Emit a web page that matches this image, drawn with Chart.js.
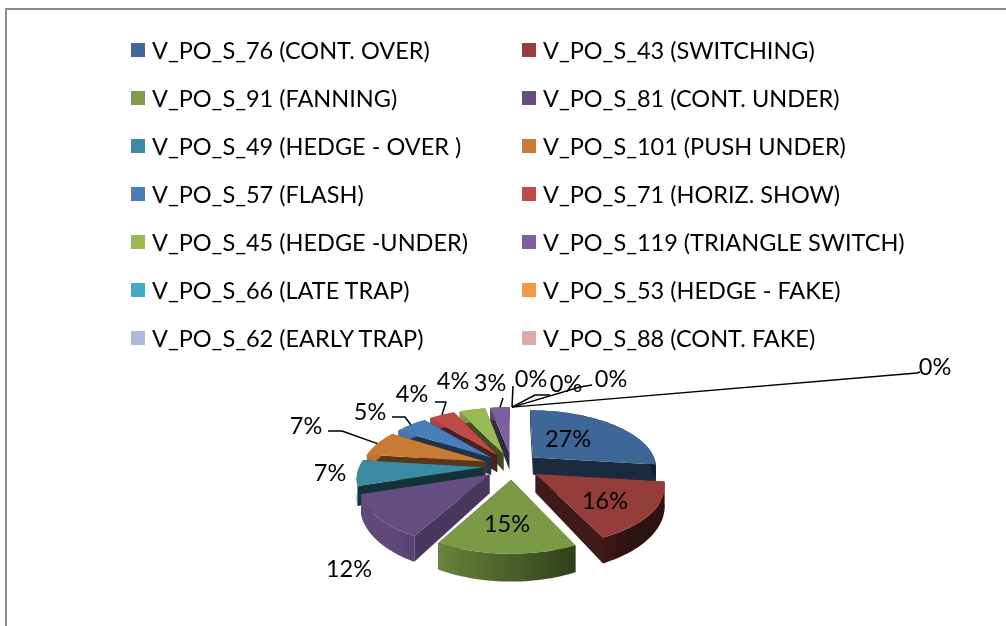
<!DOCTYPE html>
<html><head><meta charset="utf-8">
<script src="https://cdn.jsdelivr.net/npm/chart.js@4"></script>
<style>
html,body{margin:0;padding:0;background:#fff;width:1006px;height:626px;overflow:hidden}
#wrap{position:relative;width:1006px;height:626px}
#frame{position:absolute;left:5px;top:8px;width:1100px;height:800px;border:2px solid #8c8c8c;box-sizing:border-box}
canvas{position:absolute;left:0;top:0}
#legend{position:absolute;left:0;top:0;font:23.5px Lato,sans-serif;color:#000}
.it{position:absolute;white-space:nowrap;line-height:28px;height:28px}
.sw{position:absolute;width:14px;height:14px;top:7px;left:-21px}
</style></head><body>
<div id="wrap"><div id="frame"></div><canvas id="c" width="1006" height="626"></canvas><div id="legend"></div></div>
<script>
const categories=["V_PO_S_76 (CONT. OVER)","V_PO_S_43 (SWITCHING)","V_PO_S_91 (FANNING)","V_PO_S_81 (CONT. UNDER)","V_PO_S_49 (HEDGE - OVER )","V_PO_S_101 (PUSH UNDER)","V_PO_S_57 (FLASH)","V_PO_S_71 (HORIZ. SHOW)","V_PO_S_45 (HEDGE -UNDER)","V_PO_S_119 (TRIANGLE SWITCH)","V_PO_S_66 (LATE TRAP)","V_PO_S_53 (HEDGE - FAKE)","V_PO_S_62 (EARLY TRAP)","V_PO_S_88 (CONT. FAKE)"];
const values=[27,16,15,12,7,7,5,4,4,3,0,0,0,0];
const colors=["#3e6797","#953d3b","#7a9a45","#654e82","#3a8ca3","#c97b35","#4a7ebb","#be4b48","#98b954","#7d60a0","#46aac5","#f79646","#aabbdc","#dca9a8"];
const legendColors=["#41689a","#9a3f3c","#7f9c4a","#664e83","#3b8ba4","#cb7a33","#4a7ebb","#be4b48","#98b954","#7d60a0","#46aac5","#f79646","#aabbdc","#dca9a8"];
const wallShade=[.42,.43,.5,.72,.36,.45,.42,.42,.42,.42,.4,.4,.4,.4];
const labelPos=[[568,439],[605,501],[507,524],[349,569],[330,473],[306,426],[370,412],[412,394],[453,381],[490,383],[531,379],[566,384],[611,379],[935,367]];
const leaderVia=[null,null,null,null,null,[[328,431],[342,431]],[[392,417],[405,417]],[[435,402],[446,402]],null,[[503,398]],[[513,386]],[[550,395],[535,395]],[[592,385],[580,387]],[[920,372],[917,373]]];

const K=.16, ASPECT=.462, DEPTH=18, EXPLODE=.23;
const sum=values.reduce((a,b)=>a+b,0);
const project=(arc,ang,rr,z)=>{
  const r=arc.outerRadius, off=arc.offset/r, mid=(arc.startAngle+arc.endAngle)/2;
  const u=rr*Math.cos(ang)+off*Math.cos(mid), v=rr*Math.sin(ang)+off*Math.sin(mid);
  const s=1/(1-K*v);
  return [arc.x+r*u*s, arc.y+r*ASPECT*v*s+(z?DEPTH*s*s:0)];
};
const shade=(hex,f)=>{const n=parseInt(hex.slice(1),16);return `rgb(${(n>>16)*f|0},${((n>>8)&255)*f|0},${(n&255)*f|0})`;};

const pie3d={id:'pie3d',
  beforeDatasetsDraw(chart){
    const ctx=chart.ctx, els=chart.getDatasetMeta(0).data;
    const arcs=els.map((el,i)=>{const p=el.getProps(['x','y','startAngle','endAngle','outerRadius'],true);
      return {...p,offset:el.options.offset,color:el.options.backgroundColor,i};});
    const order=arcs.filter(a=>values[a.i]>0).sort((a,b)=>Math.sin((a.startAngle+a.endAngle)/2)-Math.sin((b.startAngle+b.endAngle)/2));
    const poly=(pts,col)=>{ctx.beginPath();pts.forEach((p,j)=>j?ctx.lineTo(p[0],p[1]):ctx.moveTo(p[0],p[1]));ctx.closePath();ctx.fillStyle=col;ctx.fill();};
    for(const a of order){
      const n=Math.max(4,Math.ceil((a.endAngle-a.startAngle)*40));
      const rim=[];for(let j=0;j<=n;j++)rim.push(a.startAngle+(a.endAngle-a.startAngle)*j/n);
      const wc=shade(a.color,wallShade[a.i]);
      for(const ang of [a.startAngle,a.endAngle]){
        poly([project(a,ang,0,0),project(a,ang,1,0),project(a,ang,1,1),project(a,ang,0,1)],wc);
      }
      const upper=rim.map(r=>project(a,r,1,0)), lower=rim.map(r=>project(a,r,1,1));
      const xs=upper.map(p=>p[0]), x0=Math.min(...xs), x1=Math.max(...xs);
      const g=ctx.createLinearGradient(x0,0,x1,0);
      rim.map((r,j)=>({t:(xs[j]-x0)/(x1-x0||1),f:Math.min(.95,Math.max(.3,.62-.5*Math.sin(r+Math.PI/2)))}))
        .sort((p,q)=>p.t-q.t).forEach(st=>g.addColorStop(st.t,shade(a.color,st.f)));
      poly([...upper,...lower.slice().reverse()],g);
      poly([project(a,a.startAngle,0,0),...upper],a.color);
    }
    return false;
  },
  afterDraw(chart){
    const ctx=chart.ctx, els=chart.getDatasetMeta(0).data;
    ctx.save();
    ctx.strokeStyle='#000';ctx.lineWidth=1.5;ctx.lineJoin='round';
    els.forEach((el,i)=>{
      const via=leaderVia[i];
      if(!via)return;
      const p=el.getProps(['x','y','startAngle','endAngle','outerRadius'],true);
      const a={...p,offset:el.options.offset};
      const mid=(p.startAngle+p.endAngle)/2;
      const end=project(a,values[i]>0?mid:-Math.PI/2,1,0);
      ctx.beginPath();via.forEach((q,j)=>j?ctx.lineTo(q[0],q[1]):ctx.moveTo(q[0],q[1]));ctx.lineTo(end[0],end[1]);ctx.stroke();
    });
    ctx.fillStyle='#000';ctx.font='23.5px Lato, sans-serif';ctx.textAlign='center';ctx.textBaseline='middle';
    values.forEach((v,i)=>ctx.fillText(Math.round(v/sum*100)+'%',labelPos[i][0],labelPos[i][1]));
    ctx.restore();
  }
};

new Chart(document.getElementById('c'),{
  type:'pie',
  data:{labels:categories,datasets:[{data:values,backgroundColor:colors,borderWidth:0,offset:EXPLODE*124}]},
  options:{responsive:false,animation:false,radius:124,
    layout:{padding:{left:18,right:0,top:306,bottom:0}},
    plugins:{legend:{display:false},tooltip:{enabled:false}}},
  plugins:[pie3d]
});
const lg=document.getElementById('legend');
categories.forEach((c,i)=>{
  const d=document.createElement('div');d.className='it';
  d.style.left=(i%2?543:152)+'px';d.style.top=(36+48*(i>>1))+'px';
  d.innerHTML='<span class="sw" style="background:'+legendColors[i]+'"></span>';
  d.appendChild(document.createTextNode(c));lg.appendChild(d);
});
</script></body></html>
